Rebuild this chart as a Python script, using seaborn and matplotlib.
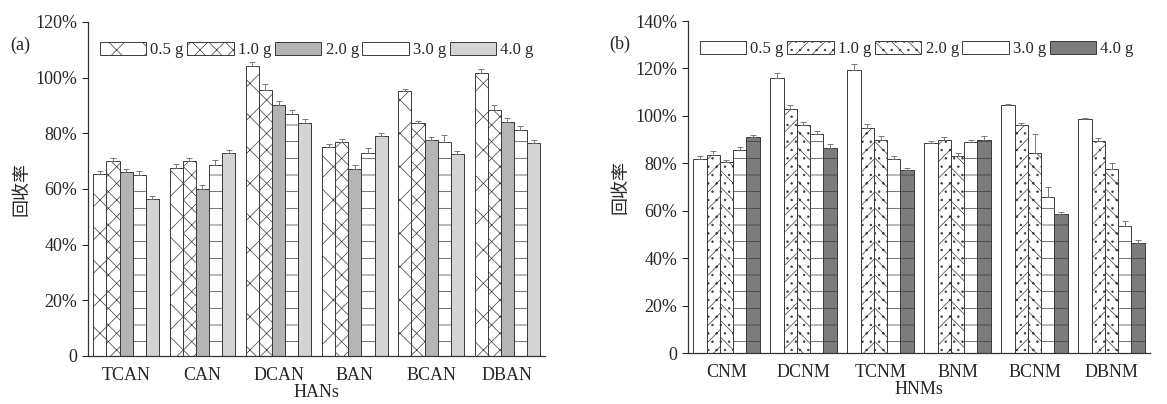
import numpy as np
import pandas as pd
import matplotlib
matplotlib.use('Agg')
import matplotlib.pyplot as plt
from matplotlib.ticker import FuncFormatter
import seaborn as sns

# ---- data ----
doses = ['0.5 g', '1.0 g', '2.0 g', '3.0 g', '4.0 g']

han_names = ['TCAN', 'CAN', 'DCAN', 'BAN', 'BCAN', 'DBAN']
han_05 = [65.5, 67.5, 104.0, 75.0, 95.0, 101.5]
han_10 = [70.0, 70.0, 95.5, 77.0, 83.5, 88.5]
han_20 = [66.0, 60.0, 90.0, 67.0, 77.5, 84.0]
han_30 = [65.0, 68.5, 87.0, 73.0, 77.0, 81.0]
han_40 = [56.5, 73.0, 83.5, 79.0, 72.5, 76.5]
han_err = [[1.0, 1.5, 1.5, 1.0, 1.0, 1.5],
           [1.0, 1.0, 2.0, 1.0, 1.0, 1.5],
           [1.0, 1.5, 1.5, 1.5, 1.0, 1.5],
           [1.5, 2.0, 1.5, 1.5, 2.5, 1.5],
           [1.0, 1.0, 1.5, 1.0, 1.0, 1.0]]

hnm_names = ['CNM', 'DCNM', 'TCNM', 'BNM', 'BCNM', 'DBNM']
hnm_05 = [82.0, 116.0, 119.5, 88.5, 104.5, 98.5]
hnm_10 = [83.5, 103.0, 95.0, 90.0, 96.0, 89.5]
hnm_20 = [80.5, 96.0, 90.0, 83.0, 84.5, 77.5]
hnm_30 = [85.5, 92.5, 82.0, 89.0, 66.0, 53.5]
hnm_40 = [91.0, 86.5, 77.0, 90.0, 58.5, 46.5]
hnm_err = [[1.0, 2.0, 2.5, 1.0, 0.5, 0.5],
           [1.5, 1.5, 1.5, 1.0, 1.0, 1.0],
           [1.0, 1.5, 1.5, 1.5, 8.0, 2.5],
           [1.5, 1.0, 1.0, 1.0, 4.0, 2.0],
           [1.0, 1.5, 1.0, 1.5, 1.0, 1.0]]

# ---- styling ----
han_styles = [dict(fc='white', hatch='x'),
              dict(fc='white', hatch='xx'),
              dict(fc='#b4b4b4', hatch=''),
              dict(fc='white', hatch='-'),
              dict(fc='#d4d4d4', hatch='')]
hnm_styles = [dict(fc='white', hatch=''),
              dict(fc='white', hatch='//..'),
              dict(fc='white', hatch='\\\\..'),
              dict(fc='white', hatch='-'),
              dict(fc='#7c7c7c', hatch='-')]

sns.set_style('ticks')
plt.rcParams['font.family'] = ['Liberation Serif', 'Noto Sans CJK SC']
plt.rcParams['hatch.linewidth'] = 0.5
plt.rcParams['hatch.color'] = '#666666'

EDGE = '#3a3a3a'


def long_frame(names, series):
    rows = []
    for dose, vals in zip(doses, series):
        for n, v in zip(names, vals):
            rows.append({'name': n, 'dose': dose, 'value': v})
    return pd.DataFrame(rows)


def pct(v, _):
    return '0' if v == 0 else f'{v:.0f}%'


def draw_panel(ax, names, series, errs, styles, ymax, xlabel, tag):
    df = long_frame(names, series)
    sns.barplot(data=df, x='name', y='value', hue='dose', order=names,
                hue_order=doses, width=0.86, errorbar=None, ax=ax,
                legend=False, linewidth=0.7, edgecolor=EDGE)
    for cont, st, err in zip(ax.containers, styles, errs):
        xs, ys = [], []
        for p in cont.patches:
            p.set_facecolor(st['fc'])
            p.set_hatch(st['hatch'])
            p.set_edgecolor(EDGE)
            p.set_linewidth(0.7)
            xs.append(p.get_x() + p.get_width() / 2)
            ys.append(p.get_height())
        ax.errorbar(xs, ys, yerr=[np.zeros(len(err)), err], fmt='none',
                    ecolor='#666666', elinewidth=0.6, capsize=2, capthick=0.6)
    ax.set_ylim(0, ymax)
    ax.set_yticks(np.arange(0, ymax + 1, 20))
    ax.yaxis.set_major_formatter(FuncFormatter(pct))
    ax.set_xlim(-0.5, 5.5)
    ax.set_xlabel(xlabel, fontsize=13, labelpad=0)
    ax.set_ylabel('回收率', fontsize=13, labelpad=4)
    ax.tick_params(axis='both', labelsize=13, length=4, width=0.8)
    ax.tick_params(axis='x', length=0, pad=8)
    for s in ['top', 'right']:
        ax.spines[s].set_visible(False)
    for s in ['left', 'bottom']:
        ax.spines[s].set_linewidth(0.9)
        ax.spines[s].set_color('#333333')
    ax.legend(ax.containers, doses, loc='upper left', bbox_to_anchor=(0.0, 0.975),
              ncol=5, frameon=False, fontsize=12, handlelength=2.8,
              handleheight=0.8, handletextpad=0.25, columnspacing=0.2,
              borderaxespad=0.3)
    ax.text(-0.17, 0.93, tag, transform=ax.transAxes, fontsize=13,
            ha='left', va='center')


fig = plt.figure(figsize=(11.67, 4.04), dpi=100)
ax_a = fig.add_axes([0.0754, 0.119, 0.392, 0.827])
ax_b = fig.add_axes([0.5895, 0.126, 0.396, 0.822])

draw_panel(ax_a, han_names, [han_05, han_10, han_20, han_30, han_40], han_err,
           han_styles, 120, 'HANs', '(a)')
draw_panel(ax_b, hnm_names, [hnm_05, hnm_10, hnm_20, hnm_30, hnm_40], hnm_err,
           hnm_styles, 140, 'HNMs', '(b)')

fig.savefig('out.png', dpi=100)
